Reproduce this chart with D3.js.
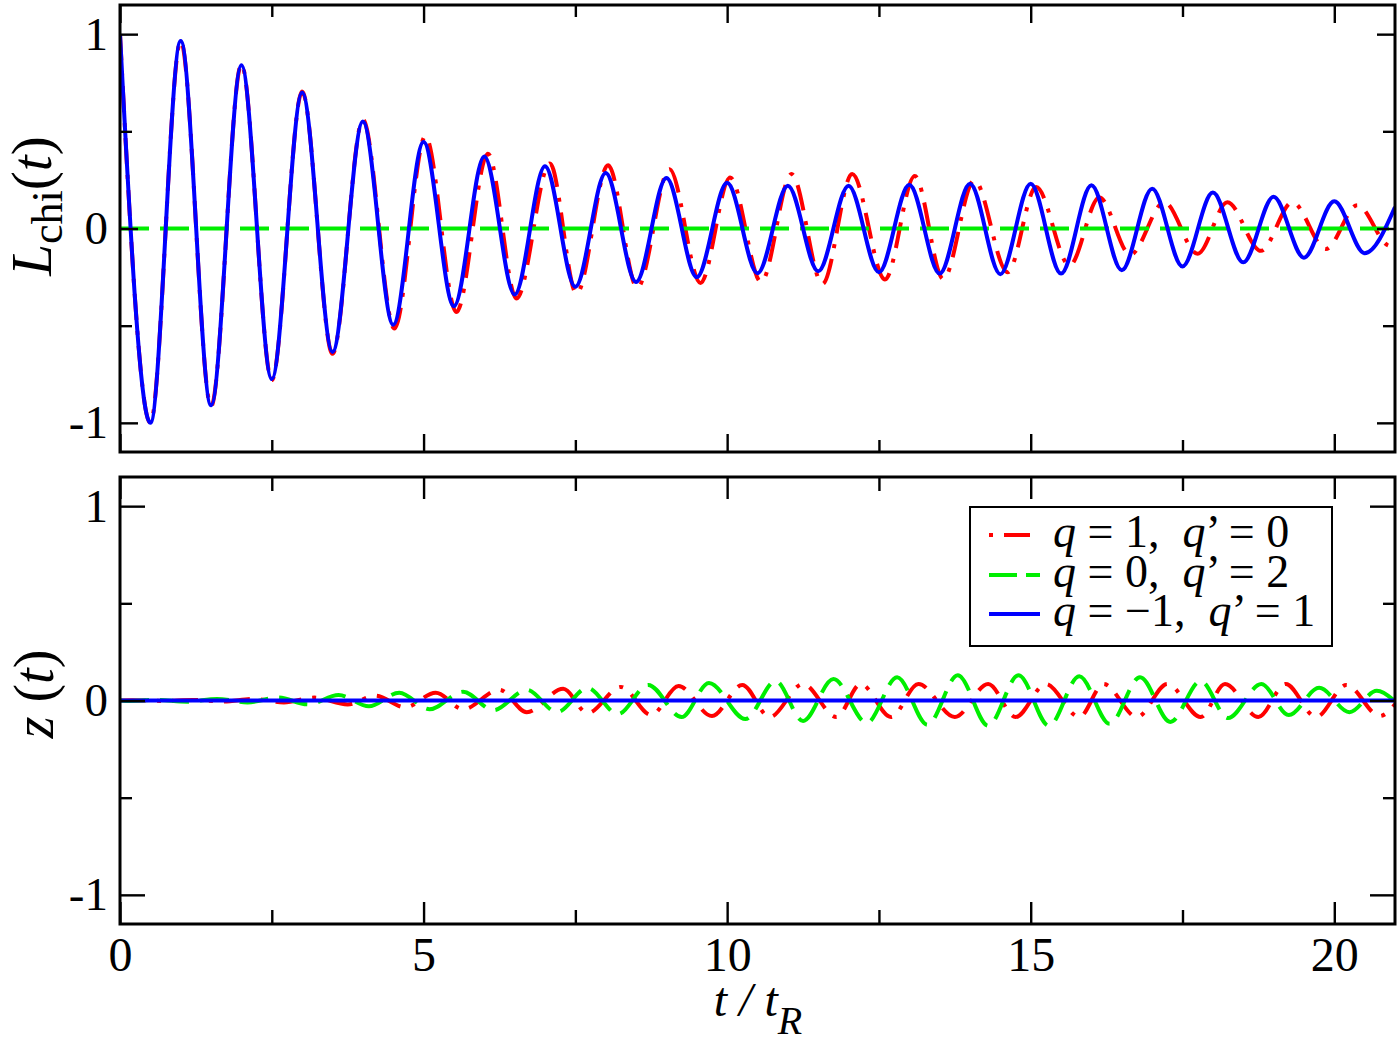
<!DOCTYPE html>
<html>
<head>
<meta charset="utf-8">
<script src="https://cdnjs.cloudflare.com/ajax/libs/d3/7.8.5/d3.min.js"></script>
<style>
  body { margin: 0; background: #fff; }
  svg { display: block; }
  text { font-family: "Liberation Serif", "Times New Roman", serif; fill: #000; }
</style>
</head>
<body>
<div id="chart"></div>
<script>
// values (extrema of each oscillation)
var redTopT = [0, 0.5, 1, 1.5, 2, 2.5, 3, 3.5, 4.0, 4.52, 5.03, 5.54, 6.06, 6.53, 7.08, 7.52, 8.04, 8.52, 9.05, 9.56, 10.05, 10.56, 11.06, 11.57, 12.06, 12.6, 13.09, 13.56, 14.07, 14.62, 15.09, 15.64, 16.13, 16.64, 17.2, 17.75, 18.24, 18.79, 19.31, 19.86, 20.38, 20.92, 21]
var redTopV = [1.0, -1.0, 0.965, -0.915, 0.845, -0.78, 0.705, -0.645, 0.56, -0.515, 0.475, -0.43, 0.385, -0.36, 0.335, -0.335, 0.325, -0.305, 0.305, -0.28, 0.262, -0.275, 0.28, -0.285, 0.28, -0.262, 0.27, -0.26, 0.248, -0.225, 0.213, -0.19, 0.16, -0.135, 0.135, -0.13, 0.135, -0.115, 0.135, -0.105, 0.12, -0.09, -0.085]

var blueTopT = [0, 0.5, 1, 1.5, 2, 2.5, 3, 3.5, 4, 4.5, 5, 5.5, 6, 6.5, 7, 7.5, 8, 8.5, 9, 9.5, 10, 10.5, 11, 11.5, 12, 12.5, 13, 13.5, 14, 14.5, 15, 15.5, 16, 16.5, 17, 17.5, 18, 18.5, 19, 19.5, 20, 20.5, 21]
var blueTopV = [1.0, -1.0, 0.965, -0.91, 0.84, -0.775, 0.70, -0.635, 0.55, -0.495, 0.445, -0.40, 0.37, -0.34, 0.32, -0.30, 0.285, -0.275, 0.26, -0.25, 0.235, -0.23, 0.22, -0.22, 0.22, -0.225, 0.225, -0.232, 0.23, -0.235, 0.23, -0.232, 0.222, -0.215, 0.205, -0.195, 0.185, -0.174, 0.163, -0.15, 0.14, -0.127, 0.11]

var greenTopT = [0, 21]
var greenTopV = [0, 0]

var redBotT = [0, 0.2, 0.7, 1.2, 1.7, 2.2, 2.7, 3.2, 3.75, 4.2, 4.7, 5.2, 5.65, 6.25, 6.7, 7.3, 7.7, 8.25, 8.75, 9.2, 9.75, 10.25, 10.7, 11.25, 11.8, 12.2, 12.7, 13.15, 13.75, 14.3, 14.75, 15.25, 15.8, 16.2, 16.75, 17.25, 17.8, 18.2, 18.75, 19.2, 19.7, 20.2, 20.75, 21]
var redBotV = [0, 0.001, -0.002, 0.003, -0.005, 0.008, -0.01, 0.015, -0.02, 0.025, -0.035, 0.04, -0.045, 0.055, -0.06, 0.06, -0.065, 0.07, -0.075, 0.075, -0.08, 0.08, -0.085, 0.085, -0.085, 0.085, -0.085, 0.085, -0.085, 0.085, -0.085, 0.085, -0.085, 0.085, -0.085, 0.085, -0.085, 0.085, -0.085, 0.085, -0.085, 0.08, -0.08, -0.02]

var greenBotT = [0, 0.1, 0.6, 1.1, 1.6, 2.1, 2.6, 3.1, 3.6, 4.1, 4.6, 5.1, 5.65, 6.15, 6.7, 7.2, 7.7, 8.2, 8.7, 9.25, 9.7, 10.3, 10.8, 11.25, 11.75, 12.3, 12.8, 13.3, 13.8, 14.3, 14.8, 15.3, 15.8, 16.3, 16.8, 17.3, 17.8, 18.25, 18.8, 19.25, 19.75, 20.25, 20.7, 21]
var greenBotV = [0, -0.002, 0.003, -0.006, 0.008, -0.01, 0.015, -0.02, 0.028, -0.03, 0.04, -0.045, 0.045, -0.05, 0.055, -0.06, 0.065, -0.07, 0.08, -0.085, 0.09, -0.095, 0.1, -0.105, 0.11, -0.115, 0.12, -0.125, 0.13, -0.13, 0.13, -0.13, 0.125, -0.12, 0.12, -0.11, 0.1, -0.09, 0.085, -0.075, 0.065, -0.06, 0.05, -0.005]

var blueBotT = [0, 21]
var blueBotV = [0, 0]

var xMajor = [0, 5, 10, 15, 20]
var xMinor = [2.5, 7.5, 12.5, 17.5]
var yMajor = [-1, 0, 1]
var yMinor = [-0.5, 0.5]

var legendLabels = [
    [["q", true], [" = 1,  ", false], ["q", true], ["\u2019 = 0", false]],
    [["q", true], [" = 0,  ", false], ["q", true], ["\u2019 = 2", false]],
    [["q", true], [" = \u22121,  ", false], ["q", true], ["\u2019 = 1", false]]
]

var width = 1400, height = 1042
var left = 120, right = 1395

var svg = d3.select("#chart").append("svg")
    .attr("width", width)
    .attr("height", height)

var xScale = d3.scaleLinear().domain([0, 21]).range([left, right])
var yTop = d3.scaleLinear().domain([-1.15, 1.15]).range([452, 5])
var yBot = d3.scaleLinear().domain([-1.15, 1.15]).range([924, 477])

var styles = {
    red: { color: "#ff0000", dash: "26,11,4,11" },
    green: { color: "#00ee00", dash: "29,11" },
    blue: { color: "#0000ff", dash: null }
}

function zipSeries(ts, vs) {
    return ts.map(function (t, i) { return { t: t, v: vs[i] } })
}

function drawPanel(yScale, series, id, tick) {
    var y0 = yScale.range()[1], y1 = yScale.range()[0]

    svg.append("clipPath").attr("id", id)
        .append("rect")
        .attr("x", left).attr("y", y0)
        .attr("width", right - left).attr("height", y1 - y0)

    var line = d3.line()
        .x(function (d) { return xScale(d.t) })
        .y(function (d) { return yScale(d.v) })
        .curve(d3.curveMonotoneX)

    var g = svg.append("g").attr("clip-path", "url(#" + id + ")")
    series.forEach(function (s) {
        g.append("path")
            .datum(s.data)
            .attr("d", line)
            .attr("fill", "none")
            .attr("stroke", styles[s.key].color)
            .attr("stroke-width", 4)
            .attr("stroke-dasharray", styles[s.key].dash)
    })

    // ticks, all pointing inward
    function ticks(axis, vals, size, tx, ty) {
        var a = svg.append("g")
            .attr("transform", "translate(" + tx + "," + ty + ")")
            .call(axis.tickValues(vals).tickSize(-size).tickFormat(""))
        a.select(".domain").remove()
        a.selectAll("line").attr("stroke", "#000").attr("stroke-width", 2.4)
        return a
    }
    ticks(d3.axisBottom(xScale), xMajor, tick.xMaj, 0, y1)
    ticks(d3.axisBottom(xScale), xMinor, tick.xMin, 0, y1)
    ticks(d3.axisTop(xScale), xMajor, tick.xMaj, 0, y0)
    ticks(d3.axisTop(xScale), xMinor, tick.xMin, 0, y0)
    ticks(d3.axisLeft(yScale), yMajor, tick.yMaj, left, 0)
    ticks(d3.axisLeft(yScale), yMinor, tick.yMin, left, 0)
    ticks(d3.axisRight(yScale), yMajor, tick.yMaj, right, 0)
    ticks(d3.axisRight(yScale), yMinor, tick.yMin, right, 0)

    // y tick labels
    var lab = svg.append("g")
        .attr("transform", "translate(" + left + ",0)")
        .call(d3.axisLeft(yScale).tickValues(yMajor).tickSize(0).tickPadding(12)
            .tickFormat(function (d) { return d < 0 ? "-" + Math.abs(d) : d }))
    lab.select(".domain").remove()
    lab.selectAll("text")
        .style("font-family", "'Liberation Serif', serif")
        .style("font-size", "47px")

    svg.append("rect")
        .attr("x", left).attr("y", y0)
        .attr("width", right - left).attr("height", y1 - y0)
        .attr("fill", "none")
        .attr("stroke", "#000")
        .attr("stroke-width", 3)
}

drawPanel(yTop, [
    { key: "red", data: zipSeries(redTopT, redTopV) },
    { key: "green", data: zipSeries(greenTopT, greenTopV) },
    { key: "blue", data: zipSeries(blueTopT, blueTopV) }
], "clipTop", { xMaj: 18, xMin: 12, yMaj: 18, yMin: 12 })

drawPanel(yBot, [
    { key: "red", data: zipSeries(redBotT, redBotV) },
    { key: "green", data: zipSeries(greenBotT, greenBotV) },
    { key: "blue", data: zipSeries(blueBotT, blueBotV) }
], "clipBot", { xMaj: 22, xMin: 14, yMaj: 25, yMin: 12 })

// x tick labels on the lower panel only
var xl = svg.append("g")
    .attr("transform", "translate(0,924)")
    .call(d3.axisBottom(xScale).tickValues(xMajor).tickSize(0).tickPadding(13))
xl.select(".domain").remove()
xl.selectAll("text")
    .style("font-family", "'Liberation Serif', serif")
    .style("font-size", "48px")

// axis titles
var yt1 = svg.append("text")
    .attr("transform", "translate(51,206) rotate(-90)")
    .attr("text-anchor", "middle")
    .style("font-size", "57px")
yt1.append("tspan").style("font-style", "italic").text("L")
yt1.append("tspan").attr("dy", "0.26em").style("font-size", "44px").text("chi")
yt1.append("tspan").attr("dy", "-0.2em").text("(")
yt1.append("tspan").style("font-style", "italic").text("t")
yt1.append("tspan").text(")")

var yt2 = svg.append("text")
    .attr("transform", "translate(53,694) rotate(-90)")
    .attr("text-anchor", "middle")
    .style("font-size", "56px")
    .style("white-space", "pre")
yt2.append("tspan").style("font-style", "italic").text("z")
yt2.append("tspan").text(" (")
yt2.append("tspan").style("font-style", "italic").text("t")
yt2.append("tspan").text(")")

var xt = svg.append("text")
    .attr("x", 758).attr("y", 1016)
    .attr("text-anchor", "middle")
    .style("font-size", "48px")
    .style("font-style", "italic")
    .style("white-space", "pre")
xt.append("tspan").text("t / t")
xt.append("tspan").attr("dy", "0.45em").style("font-size", "40px").text("R")

// legend
var leg = svg.append("g")
leg.append("rect")
    .attr("x", 970).attr("y", 507)
    .attr("width", 362).attr("height", 139)
    .attr("fill", "#fff")
    .attr("stroke", "#000")
    .attr("stroke-width", 2)

var legKeys = ["red", "green", "blue"]
var legDash = { red: "4,11,26,11", green: "28,9", blue: null }
var rowY = [535, 575, 614]
legKeys.forEach(function (k, i) {
    leg.append("line")
        .attr("x1", 989).attr("x2", 1040)
        .attr("y1", rowY[i]).attr("y2", rowY[i])
        .attr("stroke", styles[k].color)
        .attr("stroke-width", 4)
        .attr("stroke-dasharray", legDash[k])
    var t = leg.append("text")
        .attr("x", 1053).attr("y", rowY[i] + 12)
        .style("font-size", "46px")
        .style("white-space", "pre")
    legendLabels[i].forEach(function (p) {
        t.append("tspan").style("font-style", p[1] ? "italic" : "normal").text(p[0])
    })
})
</script>
</body>
</html>
